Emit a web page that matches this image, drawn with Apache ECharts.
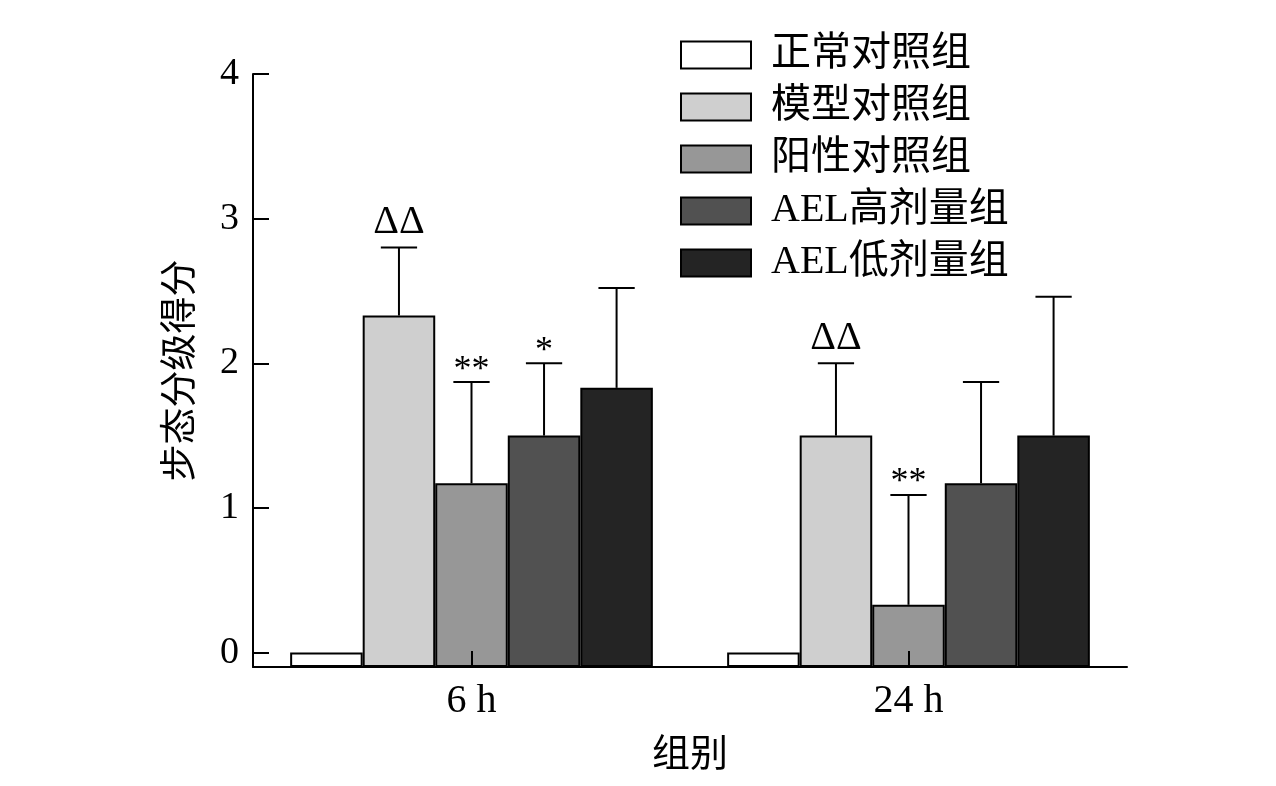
<!DOCTYPE html>
<html>
<head>
<meta charset="utf-8">
<script src="https://cdn.jsdelivr.net/npm/echarts@6/dist/echarts.min.js"></script>
<style>html,body{margin:0;padding:0;background:#fff;}#chart{width:1276px;height:786px;}</style>
</head>
<body>
<div id="chart"></div>
<script>
const categories = ['6 h', '24 h'];
const seriesNames = ['正常对照组', '模型对照组', '阳性对照组', 'AEL高剂量组', 'AEL低剂量组'];
const normalMean = [0, 0];
const modelMean = [2.33, 1.5];
const positiveMean = [1.17, 0.33];
const aelHighMean = [1.5, 1.17];
const aelLowMean = [1.83, 1.5];
const normalErrTop = [null, null];
const modelErrTop = [2.8, 2.0];
const positiveErrTop = [1.87, 1.09];
const aelHighErrTop = [2.0, 1.87];
const aelLowErrTop = [2.52, 2.46];
const normalMarks = ['', ''];
const modelMarks = ['ΔΔ', 'ΔΔ'];
const positiveMarks = ['**', '**'];
const aelHighMarks = ['*', ''];
const aelLowMarks = ['', ''];
const yTicks = [0, 1, 2, 3, 4];

const means = [normalMean, modelMean, positiveMean, aelHighMean, aelLowMean];
const errTops = [normalErrTop, modelErrTop, positiveErrTop, aelHighErrTop, aelLowErrTop];
const marks = [normalMarks, modelMarks, positiveMarks, aelHighMarks, aelLowMarks];
const colors = ['#ffffff', '#cfcfcf', '#979797', '#515151', '#242424'];

const FONT = '"Liberation Serif", "Noto Sans CJK SC", serif';
const BAR_FRAC = 0.166;

const barSeries = seriesNames.map((name, s) => ({
  name: name,
  type: 'bar',
  data: means[s],
  barWidth: (BAR_FRAC * 100) + '%',
  barGap: '0%',
  itemStyle: { color: colors[s], borderColor: '#000', borderWidth: 2 },
  z: 2
}));

const errData = [];
for (let s = 0; s < seriesNames.length; s++) {
  for (let c = 0; c < categories.length; c++) {
    if (errTops[s][c] != null) errData.push([c, errTops[s][c], means[s][c], s]);
  }
}

const errSeries = {
  type: 'custom',
  name: 'err',
  data: errData,
  encode: { x: 0, y: 1 },
  z: 5,
  silent: true,
  renderItem: function (params, api) {
    const c = api.value(0), top = api.value(1), mean = api.value(2), s = api.value(3);
    const catW = api.size([1, 0])[0];
    const bw = catW * BAR_FRAC;
    const pMean = api.coord([c, mean]);
    const pTop = api.coord([c, top]);
    const x = pMean[0] + (s - 2) * bw;
    const half = bw / 4;
    const style = { stroke: '#000', lineWidth: 2 };
    const children = [
      { type: 'line', shape: { x1: x, y1: pMean[1], x2: x, y2: pTop[1] }, style: style },
      { type: 'line', shape: { x1: x - half, y1: pTop[1], x2: x + half, y2: pTop[1] }, style: style }
    ];
    const m = marks[s][c];
    if (m) {
      const isStar = m.indexOf('*') >= 0;
      children.push({
        type: 'text',
        style: {
          text: m,
          x: x,
          y: isStar ? pTop[1] + 6 : pTop[1] - 5,
          align: 'center',
          verticalAlign: 'bottom',
          font: (isStar ? '36px ' : '40px ') + FONT,
          fill: '#000'
        }
      });
    }
    return { type: 'group', children: children };
  }
};

const chart = echarts.init(document.getElementById('chart'));
chart.setOption({
  backgroundColor: '#fff',
  animation: false,
  grid: { left: 253, right: 149, top: 74, bottom: 119, containLabel: false },
  legend: {
    data: seriesNames,
    orient: 'vertical',
    left: 675,
    top: 30,
    itemWidth: 70,
    itemHeight: 27,
    itemGap: 12,
    icon: 'rect',
    selectedMode: false,
    textStyle: { fontSize: 40, fontFamily: FONT, color: '#000', padding: [0, 0, 0, 15] }
  },
  xAxis: {
    type: 'category',
    data: categories,
    z: 10,
    name: '组别',
    nameLocation: 'middle',
    nameGap: 70,
    nameTextStyle: { fontSize: 38, fontFamily: FONT, color: '#000' },
    axisLine: { show: true, onZero: false, lineStyle: { color: '#000', width: 2 } },
    axisTick: { show: true, inside: true, length: 16, alignWithLabel: true, lineStyle: { color: '#000', width: 2 } },
    axisLabel: { fontSize: 40, fontFamily: FONT, color: '#000', margin: 14 },
    splitLine: { show: false }
  },
  yAxis: {
    type: 'value',
    min: -0.1,
    max: 4,
    startValue: -0.1,
    z: 10,
    name: '步态分级得分',
    nameLocation: 'middle',
    nameGap: 52,
    nameTextStyle: { fontSize: 37, fontFamily: FONT, color: '#000' },
    axisLine: { show: true, onZero: false, lineStyle: { color: '#000', width: 2 } },
    axisTick: { show: true, inside: true, length: 16, customValues: yTicks, lineStyle: { color: '#000', width: 2 } },
    axisLabel: { fontSize: 38, fontFamily: FONT, color: '#000', margin: 14, customValues: yTicks },
    splitLine: { show: false }
  },
  series: barSeries.concat([errSeries])
});
</script>
</body>
</html>
